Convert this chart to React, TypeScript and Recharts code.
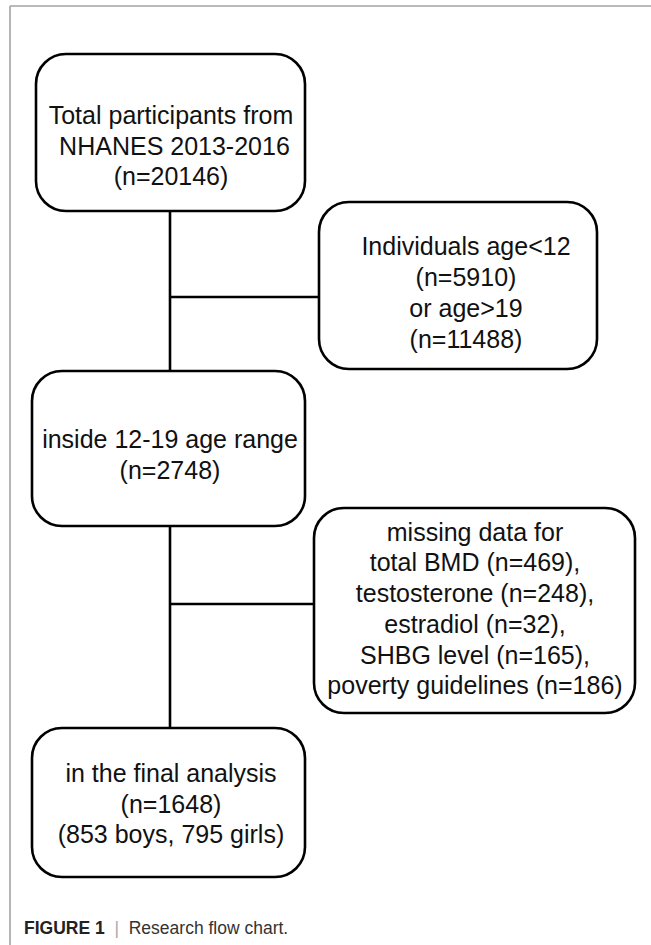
import React from "react";
import { ScatterChart, Scatter, XAxis, YAxis, ReferenceArea, ReferenceLine } from "recharts";

// ---- content (values) ----
const boxLines: string[][] = [
  ["Total participants from", " NHANES 2013-2016", "(n=20146)"],
  ["Individuals age<12", "(n=5910)", "or age>19", "(n=11488)"],
  ["inside 12-19 age range", "(n=2748)"],
  [
    "missing data for",
    "total BMD (n=469),",
    "testosterone (n=248),",
    "estradiol (n=32),",
    "SHBG level (n=165),",
    "poverty guidelines (n=186)",
  ],
  ["in the final analysis", "(n=1648)", "(853 boys, 795 girls)"],
];
const captionBold = "FIGURE 1";
const captionText = "Research flow chart.";

// ---- layout (in chart domain units) ----
const boxLeft = [36, 319, 32, 314, 32];
const boxRight = [305, 597, 305, 635, 305];
const boxTop = [54, 202, 371, 508, 728];
const boxBottom = [211, 369, 526, 713, 877];
const textCenterX = [171, 466, 170, 475, 171];
const textCenterY = [146, 293, 455, 609, 804];
const trunkX = 170;
const branchY = [297, 604];

const W = 651;
const H = 945;
const FONT = "'Liberation Sans', Arial, Helvetica, sans-serif";
const FS = 25;
const GAP = 30.7;

const textData = boxLines.map((lines, i) => ({
  x: textCenterX[i],
  y: textCenterY[i],
  lines,
}));

const BoxShape = (props: any) => {
  const { x, y, width, height } = props;
  return (
    <rect
      x={x}
      y={y}
      width={width}
      height={height}
      rx={30}
      ry={30}
      fill="none"
      stroke="#000"
      strokeWidth={2.6}
    />
  );
};

const TextShape = (props: any) => {
  const { cx, cy, payload } = props;
  const lines: string[] = payload.lines;
  const n = lines.length;
  return (
    <text
      textAnchor="middle"
      fontFamily={FONT}
      fontSize={FS}
      fill="#111"
      xmlSpace="preserve"
      style={{ whiteSpace: "pre" }}
    >
      {lines.map((l, k) => (
        <tspan key={k} x={cx} y={cy + (k - (n - 1) / 2) * GAP + 8.5}>
          {l}
        </tspan>
      ))}
    </text>
  );
};

export default function App() {
  const segs = [
    [{ x: trunkX, y: boxBottom[0] }, { x: trunkX, y: boxTop[2] }],
    [{ x: trunkX, y: boxBottom[2] }, { x: trunkX, y: boxTop[4] }],
    [{ x: trunkX, y: branchY[0] }, { x: boxLeft[1], y: branchY[0] }],
    [{ x: trunkX, y: branchY[1] }, { x: boxLeft[3], y: branchY[1] }],
  ];
  return (
    <div style={{ position: "absolute", left: 0, top: 0, width: W, height: H, background: "#fff" }}>
      <ScatterChart width={W} height={H} margin={{ top: 0, right: 0, bottom: 0, left: 0 }}>
        <XAxis type="number" dataKey="x" domain={[0, W]} hide allowDataOverflow />
        <YAxis type="number" dataKey="y" domain={[0, H]} reversed hide allowDataOverflow />
        <ReferenceLine
          segment={[{ x: 10, y: 6 }, { x: W, y: 6 }]}
          stroke="#a3a3a3"
          strokeWidth={1.6}
          ifOverflow="extendDomain"
        />
        <ReferenceLine
          segment={[{ x: 10, y: 6 }, { x: 10, y: H }]}
          stroke="#a3a3a3"
          strokeWidth={1.6}
          ifOverflow="extendDomain"
        />
        {segs.map((s, i) => (
          <ReferenceLine key={"s" + i} segment={s} stroke="#000" strokeWidth={2.6} />
        ))}
        {boxLines.map((_, i) => (
          <ReferenceArea
            key={"b" + i}
            x1={boxLeft[i]}
            x2={boxRight[i]}
            y1={boxTop[i]}
            y2={boxBottom[i]}
            shape={BoxShape}
          />
        ))}
        <Scatter data={textData} shape={TextShape} isAnimationActive={false} />
      </ScatterChart>
      <div
        style={{
          position: "absolute",
          left: 24,
          top: 918,
          fontFamily: FONT,
          fontSize: 17.5,
          lineHeight: "20px",
          color: "#333",
          whiteSpace: "pre",
        }}
      >
        <span style={{ fontWeight: "bold", color: "#222" }}>{captionBold}</span>
        <span style={{ color: "#aaa" }}>{"  |  "}</span>
        <span>{captionText}</span>
      </div>
    </div>
  );
}
